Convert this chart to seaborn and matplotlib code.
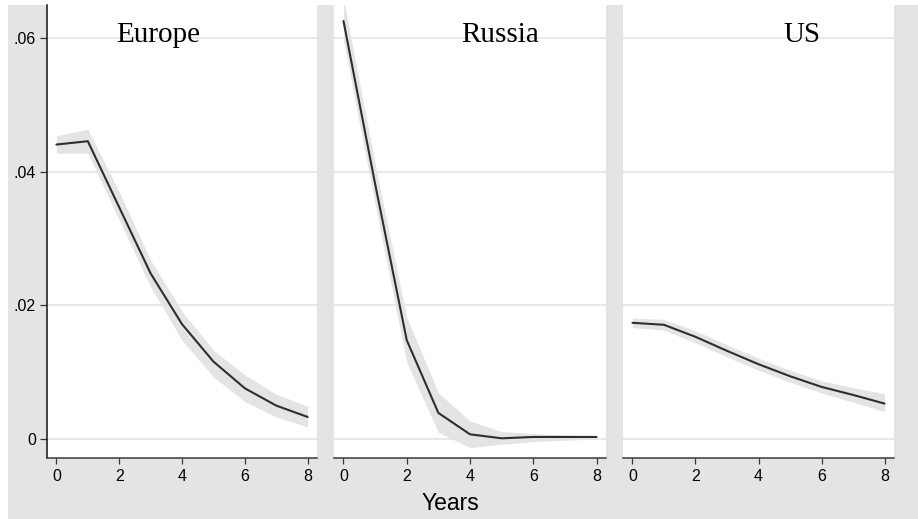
import pandas as pd
import matplotlib.pyplot as plt
import numpy as np
import seaborn as sns
from matplotlib.patches import Rectangle

sns.set_style('white')
plt.rcParams['font.family'] = ['Liberation Sans', 'DejaVu Sans']
plt.rcParams['text.color'] = 'black'
plt.rcParams['xtick.labelcolor'] = 'black'
plt.rcParams['ytick.labelcolor'] = 'black'

# Data (horizon in years, point estimate and band)
years = [0, 1, 2, 3, 4, 5, 6, 7, 8]
regions = ['Europe', 'Russia', 'US']

europe_mid = [0.0441, 0.0446, 0.0347, 0.0248, 0.0172, 0.0116, 0.0076, 0.0050, 0.0033]
europe_lo = [0.0428, 0.0428, 0.0328, 0.0228, 0.0148, 0.0093, 0.0056, 0.0033, 0.0018]
europe_hi = [0.0454, 0.0464, 0.0370, 0.0268, 0.0191, 0.0133, 0.0096, 0.0067, 0.0049]

russia_mid = [0.0626, 0.0382, 0.0148, 0.0039, 0.0007, 0.0001, 0.0003, 0.0003, 0.0003]
russia_lo = [0.0596, 0.0352, 0.0115, 0.0010, -0.0013, -0.0008, -0.0004, -0.0002, 0.0000]
russia_hi = [0.0660, 0.0412, 0.0182, 0.0069, 0.0027, 0.0011, 0.0008, 0.0006, 0.0005]

us_mid = [0.0174, 0.0171, 0.0153, 0.0132, 0.0112, 0.0094, 0.0078, 0.0066, 0.0053]
us_lo = [0.0167, 0.0163, 0.0144, 0.0123, 0.0103, 0.0085, 0.0069, 0.0055, 0.0041]
us_hi = [0.0181, 0.0179, 0.0162, 0.0141, 0.0121, 0.0103, 0.0087, 0.0077, 0.0068]

ytick_vals = [0, 0.02, 0.04, 0.06]
ytick_labels = ['0', '.02', '.04', '.06']
xtick_vals = [0, 2, 4, 6, 8]

# Title positions inside each panel (data coords)
title_x = [3.25, 4.94, 5.37]
title_y = 0.0595

frames = []
for name, mid, lo, hi in [('Europe', europe_mid, europe_lo, europe_hi),
                          ('Russia', russia_mid, russia_lo, russia_hi),
                          ('US', us_mid, us_lo, us_hi)]:
    frames.append(pd.DataFrame({'region': name, 'year': years,
                                'mid': mid, 'lo': lo, 'hi': hi}))
df = pd.concat(frames, ignore_index=True)

bg = '#e4e4e4'
W, H = 918, 519
fig = plt.figure(figsize=(W / 100, H / 100), dpi=100)
fig.patch.set_facecolor('white')
fig.patches.append(Rectangle((8 / W, 0), (W - 8) / W, (H - 5) / H,
                             transform=fig.transFigure, facecolor=bg,
                             edgecolor='none', zorder=-10))

lefts = [47, 334, 623]
rights = [317, 606, 894]
top, bottom = 5, 458

for i, name in enumerate(regions):
    ax = fig.add_axes([lefts[i] / W, 1 - bottom / H,
                       (rights[i] - lefts[i]) / W, (bottom - top) / H])
    ax.set_facecolor('white')
    sub = df[df['region'] == name]

    for v in ytick_vals:
        ax.axhline(v, color='#e6e6e6', lw=1.3, zorder=1)
    ax.fill_between(sub['year'], sub['lo'], sub['hi'], color=bg,
                    lw=0, zorder=2)
    sns.lineplot(data=sub, x='year', y='mid', ax=ax, color='#2e2e2e',
                 lw=1.5, zorder=3)

    ax.set_xlim(-0.3, 8.3)
    ax.set_ylim(-0.00285, 0.0650)
    ax.set_xticks(xtick_vals)
    ax.set_xticklabels([str(t) for t in xtick_vals], fontsize=11.5)
    ax.set_xlabel('')
    ax.set_ylabel('')

    for s in ['top', 'right']:
        ax.spines[s].set_visible(False)
    ax.spines['bottom'].set_color('#3a3a3a')
    ax.spines['bottom'].set_linewidth(1.1)
    ax.tick_params(axis='x', direction='out', length=4.5, width=0.9,
                   color='#3a3a3a', pad=3.5, bottom=True)

    if i == 0:
        ax.set_yticks(ytick_vals)
        ax.set_yticklabels(ytick_labels, fontsize=11.5)
        ax.spines['left'].set_color('#111111')
        ax.spines['left'].set_linewidth(1.1)
        ax.tick_params(axis='y', direction='out', length=5, width=0.9,
                       color='#333333', pad=3, left=True)
    else:
        ax.spines['left'].set_visible(False)
        ax.set_yticks(ytick_vals)
        ax.tick_params(axis='y', left=False, labelleft=False)

    ax.text(title_x[i], title_y, name, ha='center', va='baseline',
            fontsize=21, family='Liberation Serif', zorder=4)

fig.text(450 / W, 1 - 504 / H, 'Years', ha='center', va='center',
         fontsize=16.5)

plt.savefig('out.png', dpi=100)
plt.close()
